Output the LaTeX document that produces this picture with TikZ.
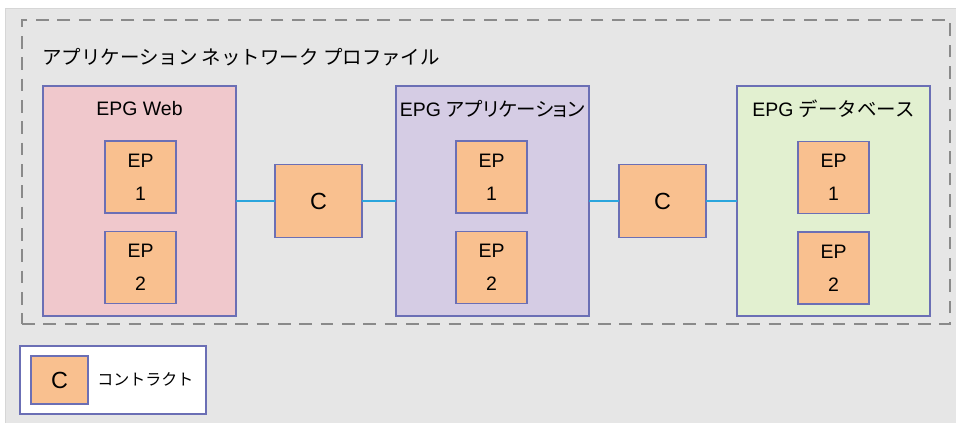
\documentclass[tikz,border=0pt]{standalone}
\usepackage{fontspec}
\setmainfont{Liberation Sans}
\newfontfamily\cjk{Noto Sans CJK JP}
\newfontfamily\cjkp[RawFeature=+palt]{Noto Sans CJK JP}
\definecolor{bggray}{HTML}{E6E6E6}
\definecolor{bgline}{HTML}{D6D6D6}
\definecolor{dashgray}{HTML}{8A8A8A}
\definecolor{edgeblue}{HTML}{6B6FB5}
\definecolor{webfill}{HTML}{F0C8CC}
\definecolor{appfill}{HTML}{D5CCE4}
\definecolor{dbfill}{HTML}{E2F0D0}
\definecolor{epfill}{HTML}{F9C08F}
\definecolor{linkblue}{HTML}{2AA5DD}
\begin{document}
\begin{tikzpicture}[x=0.75pt,y=-0.75pt,
  profile/.style={draw=dashgray, line width=1.5pt, dash pattern=on 9.5pt off 6.5pt, inner sep=0pt, outer sep=0pt, minimum width=696pt, minimum height=228pt},
  epgbox/.style={draw=edgeblue, line width=1pt, inner sep=0pt, outer sep=0pt, minimum width=144.75pt, minimum height=172.5pt},
  epbox/.style={draw=edgeblue, fill=epfill, line width=1pt, inner sep=0pt, outer sep=0pt, minimum width=53.25pt, minimum height=54pt, align=center, font=\fontsize{14.6pt}{24.75pt}\selectfont},
  cbox/.style={draw=edgeblue, fill=epfill, line width=1pt, inner sep=0pt, outer sep=0pt, minimum width=65.25pt, minimum height=54.75pt, font=\fontsize{17.5pt}{20pt}\selectfont},
  epglabel/.style={inner sep=0pt, font=\fontsize{14.6pt}{18pt}\selectfont},
  link/.style={draw=linkblue, line width=1.8pt}
]
\useasboundingbox (0,0) rectangle (956,422);
\fill[white] (0,0) rectangle (956,422);
\draw[fill=bggray, draw=bgline, line width=0.75pt] (5,8) rectangle (958,424);

\node[profile] (prof) at (486,172) {};
\node[epglabel, anchor=west, font=\cjk\fontsize{14.6pt}{18pt}\selectfont] (title) at (42,57) {アプリケーション ネットワーク プロファイル};

\node[epgbox, fill=webfill] (web) at (139.5,201) {};
\node[epgbox, fill=appfill] (app) at (492.5,201) {};
\node[epgbox, fill=dbfill] (db) at (833.5,201) {};

\node[epglabel] (webl) at (139.5,109) {EPG Web};
\node[epglabel] (appl) at (492.5,109) {EPG {\cjkp アプリケーション}};
\node[epglabel] (dbl) at (833.5,109) {EPG {\cjk データベース}};

\node[epbox] (w1) at (140.5,177) {EP\\1};
\node[epbox] (w2) at (140.5,267.5) {EP\\2};
\node[epbox] (a1) at (491.5,177) {EP\\1};
\node[epbox] (a2) at (491.5,267.5) {EP\\2};
\node[epbox] (d1) at (833.5,177.5) {EP\\1};
\node[epbox] (d2) at (833.5,268) {EP\\2};

\node[cbox] (c1) at (318.5,201) {C};
\node[cbox] (c2) at (662.5,201) {C};

\draw[link] (web.east) -- (c1.west);
\draw[link] (c1.east) -- (app.west);
\draw[link] (app.east) -- (c2.west);
\draw[link] (c2.east) -- (db.west);

\node[draw=edgeblue, fill=white, line width=1pt, inner sep=0pt, minimum width=139.5pt, minimum height=51pt] (legend) at (113,380) {};
\node[cbox, minimum width=42.75pt, minimum height=36pt] (lc) at (59.5,380) {C};
\node[anchor=west, inner sep=0pt, font=\cjk\fontsize{12pt}{14pt}\selectfont] (lt) at (97,379) {コントラクト};
\end{tikzpicture}
\end{document}
